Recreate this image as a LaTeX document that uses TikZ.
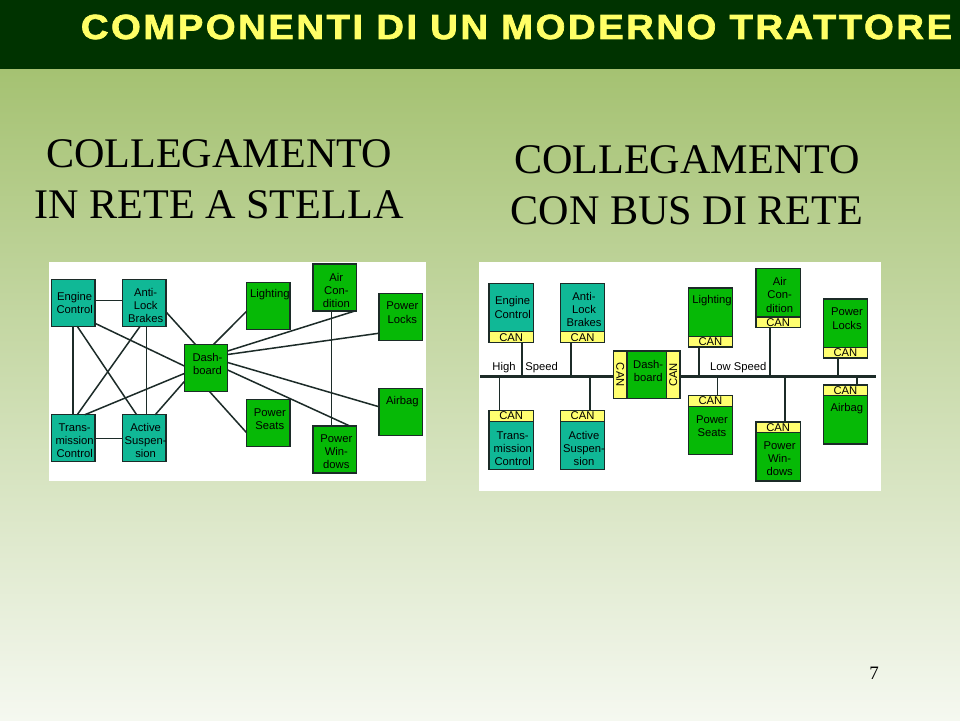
\documentclass[tikz,border=0pt]{standalone}
\usepackage{fontspec}
\usepackage{tikz}
\usetikzlibrary{positioning}
\newfontfamily\labelsans{Liberation Sans}
\newfontfamily\headserif{Liberation Serif}
\newfontfamily\titlesans[LetterSpace=7.3,FakeBold=2,FakeStretch=1.1]{Liberation Sans}
\definecolor{bandgreen}{HTML}{003300}
\definecolor{slidetop}{HTML}{A5C272}
\definecolor{slidebottom}{HTML}{F5F8F0}
\definecolor{titleyellow}{HTML}{FFFF66}
\definecolor{boxteal}{HTML}{10B896}
\definecolor{boxgreen}{HTML}{06B906}
\definecolor{canyellow}{HTML}{FFFF70}
\definecolor{wiregray}{HTML}{1C2B28}
\tikzset{
	smallsans/.style={font=\labelsans\fontsize{6.4}{7.5}\selectfont, text=black},
	boxtext/.style={smallsans, align=center, inner sep=0pt, xshift=.3mm},
	plainbox/.style={draw=wiregray, line width=.27mm, outer sep=0pt, inner sep=0pt},
	tealbox/.style={plainbox, fill=boxteal, minimum width=8.67mm, minimum height=9.4mm},
	greenbox/.style={plainbox, fill=boxgreen, minimum width=8.67mm, minimum height=9.4mm},
	rtealbox/.style={plainbox, fill=boxteal, minimum width=8.87mm, minimum height=9.7mm},
	rgreenbox/.style={plainbox, fill=boxgreen, minimum width=8.87mm, minimum height=9.7mm},
	canbox/.style={plainbox, fill=canyellow, smallsans, minimum width=8.87mm, minimum height=2.14mm},
	sidecan/.style={plainbox, fill=canyellow, smallsans, minimum width=2.74mm, minimum height=9.5mm},
	wire/.style={draw=wiregray, line width=.3mm},
	heading/.style={font=\headserif\fontsize{24}{28.9}\selectfont, align=center, text=black},
}
\begin{document}
\begin{tikzpicture}[x=.02cm, y=-.02cm]
	\useasboundingbox (0,0) rectangle (960,720);
	% Slide background
	\shade[top color=slidetop, bottom color=slidebottom] (0,69) rectangle (960,720);
	\fill[bandgreen] (0,0) rectangle (960,69);
	\node[font=\titlesans\bfseries\fontsize{19.8}{24}\selectfont, text=titleyellow, inner sep=0pt] (title) at (516.5,27) {COMPONENTI DI UN MODERNO TRATTORE};
	\node[heading] (starhead) at (219,179) {COLLEGAMENTO\\IN RETE A STELLA};
	\node[heading] (bushead) at (687,185) {COLLEGAMENTO\\CON BUS DI RETE};
	\node[font=\headserif\fontsize{10.8}{13}\selectfont, inner sep=0pt] (pagenum) at (874,673) {7};
	\fill[white] (49,262) rectangle (426,481);
	\fill[white] (479,262) rectangle (881,491);

	% Star network
	\node[greenbox, label={[boxtext, yshift=.75mm]center:Dash-\\board}] (dash) at (206,368) {};
	\node[tealbox, above left=3.66mm and 3.7mm of dash, label={[boxtext, yshift=-.6mm]center:Anti-\\Lock\\Brakes}] (anti) {};
	\node[tealbox, left=5.53mm of anti, label={[boxtext]center:Engine\\Control}] (engine) {};
	\node[tealbox, below left=4.66mm and 3.7mm of dash, label={[boxtext, yshift=-.45mm]center:Active\\Suspen-\\sion}] (active) {};
	\node[tealbox, left=5.53mm of active, label={[boxtext, yshift=-.45mm]center:Trans-\\mission\\Control}] (trans) {};
	\node[greenbox, above right=3.06mm and 3.8mm of dash, label={[boxtext, yshift=2.15mm]center:Lighting}] (lighting) {};
	\node[greenbox, above right=6.7mm and 17.1mm of dash, label={[boxtext, yshift=-.6mm]center:Air\\Con-\\dition}] (air) {};
	\node[greenbox, above right=.86mm and 30.3mm of dash, label={[boxtext, yshift=.8mm]center:Power\\Locks}] (locks) {};
	\node[greenbox, below right=1.66mm and 3.8mm of dash, label={[boxtext, yshift=.8mm]center:Power\\Seats}] (seats) {};
	\node[greenbox, below right=6.9mm and 17.1mm of dash, label={[boxtext, yshift=-.45mm]center:Power\\Win-\\dows}] (windows) {};
	\node[greenbox, below right=-.54mm and 30.3mm of dash, label={[boxtext, yshift=2.2mm]center:Airbag}] (airbag) {};

	% Star links
	\draw[wire] ([yshift=.4mm]engine.east) -- ([yshift=.4mm]anti.west);
	\draw[wire] (engine.south) -- (trans.north);
	\draw[wire] ([xshift=.8mm]engine.south) -- ([xshift=-1.5mm]active.north);
	\draw[wire] ([yshift=-4.1mm]engine.east) -- ([yshift=.4mm]dash.west);
	\draw[wire] ([xshift=-.8mm]anti.south) -- ([xshift=.8mm]trans.north);
	\draw[wire] ([xshift=.5mm]anti.south) -- ([xshift=.5mm]active.north);
	\draw[wire] ([yshift=-1.8mm]anti.east) -- ([xshift=-2.1mm]dash.north);
	\draw[wire] (trans.east) -- (active.west);
	\draw[wire] ([xshift=2.3mm]trans.north) -- ([yshift=-1.1mm]dash.west);
	\draw[wire] ([xshift=2.2mm]active.north) -- ([yshift=-2.7mm]dash.west);
	\draw[wire] ([yshift=-1.1mm]lighting.west) -- ([xshift=1.5mm]dash.north);
	\draw[wire] ([xshift=4mm]air.south) -- ([yshift=3.4mm]dash.east);
	\draw[wire] ([yshift=-3.3mm]locks.west) -- ([yshift=2.7mm]dash.east);
	\draw[wire] ([xshift=-.7mm]air.south) -- ([xshift=-.7mm]windows.north);
	\draw[wire] ([yshift=1.1mm]airbag.west) -- ([yshift=1.1mm]dash.east);
	\draw[wire] ([xshift=3mm]windows.north) -- ([yshift=-.4mm]dash.east);
	\draw[wire] ([yshift=-1.9mm]seats.west) -- ([xshift=.7mm]dash.south);

	% Bus network
	\node[plainbox, fill=boxgreen, minimum width=7.86mm, minimum height=9.5mm, label={[boxtext, yshift=.8mm]center:Dash-\\board}] (rdash) at (646.65,374.85) {};
	\node[sidecan, left=0pt of rdash] (rcanl) {\rotatebox{-90}{CAN}};
	\node[sidecan, right=0pt of rdash] (rcanr) {\rotatebox{90}{CAN}};

	\node[rtealbox, above left=3.86mm and 1.72mm of rcanl, label={[boxtext, yshift=-.4mm]center:Anti-\\Lock\\Brakes}] (ranti) {};
	\node[canbox, below=0pt of ranti] (rcananti) {CAN};
	\node[rtealbox, left=5.4mm of ranti, label={[boxtext]center:Engine\\Control}] (rengine) {};
	\node[canbox, below=0pt of rengine] (rcanengine) {CAN};
	\node[canbox, below left=2.4mm and 1.72mm of rcanl] (rcanactive) {CAN};
	\node[rtealbox, below=0pt of rcanactive, label={[boxtext, yshift=-.6mm]center:Active\\Suspen-\\sion}] (ractive) {};
	\node[canbox, left=5.4mm of rcanactive] (rcantrans) {CAN};
	\node[rtealbox, below=0pt of rcantrans, label={[boxtext, yshift=-.6mm]center:Trans-\\mission\\Control}] (rtrans) {};

	\node[rgreenbox, above right=2.94mm and 1.66mm of rcanr, label={[boxtext, yshift=2.3mm]center:Lighting}] (rlighting) {};
	\node[canbox, below=0pt of rlighting] (rcanlighting) {CAN};
	\node[rgreenbox, above right=6.8mm and 15.2mm of rcanr, label={[boxtext, yshift=-.4mm]center:Air\\Con-\\dition}] (rair) {};
	\node[canbox, below=0pt of rair] (rcanair) {CAN};
	\node[rgreenbox, above right=.74mm and 28.66mm of rcanr, label={[boxtext, yshift=.9mm]center:Power\\Locks}] (rlocks) {};
	\node[canbox, below=0pt of rlocks] (rcanlocks) {CAN};
	\node[canbox, below right=-.6mm and 1.66mm of rcanr] (rcanseats) {CAN};
	\node[rgreenbox, below=0pt of rcanseats, label={[boxtext, yshift=.8mm]center:Power\\Seats}] (rseats) {};
	\node[canbox, below right=4.66mm and 15.2mm of rcanr] (rcanwindows) {CAN};
	\node[rgreenbox, below=0pt of rcanwindows, label={[boxtext, yshift=-.4mm]center:Power\\Win-\\dows}] (rwindows) {};
	\node[canbox, below right=-2.74mm and 28.66mm of rcanr] (rcanairbag) {CAN};
	\node[rgreenbox, below=0pt of rcanairbag, label={[boxtext, yshift=2.2mm]center:Airbag}] (rairbag) {};

	% Bus line
	\coordinate (busl) at (480,376.7);
	\coordinate (busr) at (876,376.7);
	\draw[wire, line width=.55mm] (busl) -- (busl -| rcanl.west);
	\draw[wire, line width=.55mm] (busr -| rcanr.east) -- (busr);
	\node[smallsans, inner sep=0pt] (highlabel) at (504,367.7) {High};
	\node[smallsans, inner sep=0pt] (speedlabel) at (541.7,367.7) {Speed};
	\node[smallsans, inner sep=0pt] (lowlabel) at (738.3,367.7) {Low Speed};

	% Bus stubs
	\draw[wire] ([xshift=2.2mm]rcanengine.south) -- ([xshift=2.2mm]rcanengine.south |- busl);
	\draw[wire] ([xshift=-2.3mm]rcananti.south) -- ([xshift=-2.3mm]rcananti.south |- busl);
	\draw[wire] ([xshift=-2.3mm]rcantrans.north) -- ([xshift=-2.3mm]rcantrans.north |- busl);
	\draw[wire] ([xshift=1.5mm]rcanactive.north) -- ([xshift=1.5mm]rcanactive.north |- busl);
	\draw[wire] ([xshift=-2.3mm]rcanlighting.south) -- ([xshift=-2.3mm]rcanlighting.south |- busl);
	\draw[wire] ([xshift=1.4mm]rcanseats.north) -- ([xshift=1.4mm]rcanseats.north |- busl);
	\draw[wire] ([xshift=-1.6mm]rcanair.south) -- ([xshift=-1.6mm]rcanair.south |- busl);
	\draw[wire] ([xshift=1.4mm]rcanwindows.north) -- ([xshift=1.4mm]rcanwindows.north |- busl);
	\draw[wire] ([xshift=-1.5mm]rcanlocks.south) -- ([xshift=-1.5mm]rcanlocks.south |- busl);
	\draw[wire] ([xshift=2.3mm]rcanairbag.north) -- ([xshift=2.3mm]rcanairbag.north |- busl);
\end{tikzpicture}
\end{document}
